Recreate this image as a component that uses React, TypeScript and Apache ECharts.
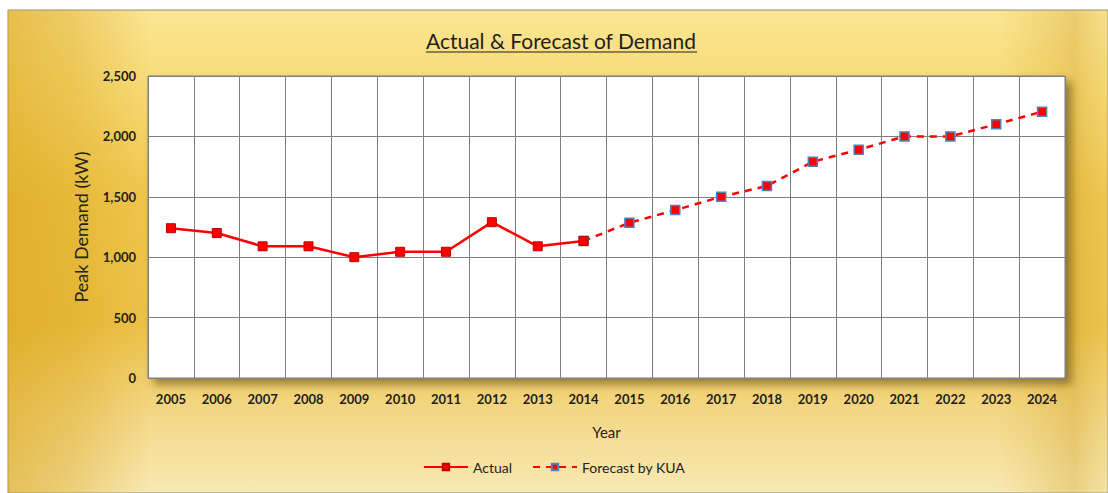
import React, { useEffect, useRef } from "react";
import * as echarts from "echarts";

const years = ["2005","2006","2007","2008","2009","2010","2011","2012","2013","2014","2015","2016","2017","2018","2019","2020","2021","2022","2023","2024"];
const actual = [1240, 1200, 1090, 1090, 1000, 1045, 1045, 1290, 1090, 1135, null, null, null, null, null, null, null, null, null, null];
const forecast = [null, null, null, null, null, null, null, null, null, 1135, 1285, 1390, 1500, 1590, 1790, 1890, 2000, 2000, 2100, 2205];
const yTicks = [0, 500, 1000, 1500, 2000, 2500];

const FONT = "Lato, 'Open Sans', sans-serif";

export default function App() {
  const ref = useRef<HTMLDivElement>(null);
  useEffect(() => {
    document.body.style.margin = "0";
    const chart = echarts.init(ref.current!, null, { renderer: "svg" });
    chart.setOption({
      animation: false,
      textStyle: { fontFamily: FONT },
      graphic: [
        {
          type: "rect",
          z: -10,
          shape: { x: 8, y: 10, width: 1100, height: 483 },
          style: {
            fill: new echarts.graphic.LinearGradient(0, 0, 0, 1, [
              { offset: 0, color: "#fbe594" },
              { offset: 0.15, color: "#f8dc78" },
              { offset: 0.4, color: "#efc64c" },
              { offset: 0.65, color: "#ecc248" },
              { offset: 0.85, color: "#f4d98a" },
              { offset: 1, color: "#f8e9b4" },
            ]),
            stroke: "#8c8c8c",
            lineWidth: 1,
          },
        },
        {
          type: "rect",
          z: -9,
          silent: true,
          shape: { x: 8, y: 10, width: 1100, height: 483 },
          style: {
            fill: new echarts.graphic.LinearGradient(0, 0, 1, 0, [
              { offset: 0, color: "rgba(215,160,20,0.55)" },
              { offset: 0.06, color: "rgba(215,160,20,0.35)" },
              { offset: 0.13, color: "rgba(215,160,20,0)" },
              { offset: 0.9, color: "rgba(215,170,40,0)" },
              { offset: 0.97, color: "rgba(205,160,40,0.35)" },
              { offset: 1, color: "rgba(230,200,100,0.2)" },
            ]),
          },
        },
        {
          type: "text",
          x: 561,
          y: 40,
          style: {
            text: "Actual & Forecast of Demand",
            fontFamily: FONT,
            fontSize: 21,
            fill: "#1f1f1f",
            align: "center",
            verticalAlign: "middle",
          },
        },
        {
          type: "line",
          shape: { x1: 426, y1: 52, x2: 697, y2: 52 },
          style: { stroke: "#1f1f1f", lineWidth: 1.2 },
        },
      ],
      grid: {
        left: 148,
        right: 43,
        top: 76,
        bottom: 115,
        show: true,
        backgroundColor: "#ffffff",
        borderColor: "#7f7f7f",
        borderWidth: 1,
        shadowColor: "rgba(90,70,20,0.6)",
        shadowBlur: 8,
        shadowOffsetX: 6,
        shadowOffsetY: 6,
      },
      legend: {
        bottom: 14,
        left: "center",
        itemWidth: 44,
        itemHeight: 8,
        itemGap: 20,
        textStyle: { fontFamily: FONT, fontSize: 14, color: "#222" },
        data: ["Actual", "Forecast by KUA"],
      },
      xAxis: {
        type: "category",
        data: years,
        boundaryGap: true,
        name: "Year",
        nameLocation: "middle",
        nameGap: 46,
        nameTextStyle: { fontFamily: FONT, fontSize: 15, color: "#222" },
        axisLine: { show: true, lineStyle: { color: "#7f7f7f", width: 1 } },
        axisTick: { show: false },
        axisLabel: { fontFamily: FONT, fontSize: 13, color: "#1f1f1f", margin: 14, fontWeight: "bold" },
        splitLine: { show: true, lineStyle: { color: "#7f7f7f", width: 1 } },
      },
      yAxis: {
        type: "value",
        min: 0,
        max: 2500,
        interval: 500,
        name: "Peak Demand (kW)",
        nameLocation: "middle",
        nameGap: 58,
        nameTextStyle: { fontFamily: FONT, fontSize: 18, color: "#222" },
        axisLine: { show: false },
        axisTick: { show: false },
        axisLabel: {
          fontFamily: FONT,
          fontSize: 13,
          color: "#1f1f1f",
          margin: 12,
          fontWeight: "bold",
          formatter: (v: number) => (yTicks.includes(v) ? v.toLocaleString("en-US") : ""),
        },
        splitLine: { show: true, lineStyle: { color: "#7f7f7f", width: 1 } },
      },
      series: [
        {
          name: "Actual",
          type: "line",
          data: actual,
          symbol: "rect",
          symbolSize: 9,
          lineStyle: { color: "#ff0000", width: 2.5 },
          itemStyle: { color: "#ff0000", borderColor: "#c00000", borderWidth: 1 },
          connectNulls: false,
          z: 3,
        },
        {
          name: "Forecast by KUA",
          type: "line",
          data: forecast,
          symbol: "rect",
          symbolSize: 9,
          lineStyle: { color: "#ff0000", width: 2.5, type: [7, 6] },
          itemStyle: { color: "#ff0000", borderColor: "#4f81bd", borderWidth: 1.5 },
          connectNulls: false,
          z: 2,
        },
      ],
    });
    return () => chart.dispose();
  }, []);
  return <div ref={ref} style={{ width: 1108, height: 493, position: "absolute", left: 0, top: 0 }} />;
}
